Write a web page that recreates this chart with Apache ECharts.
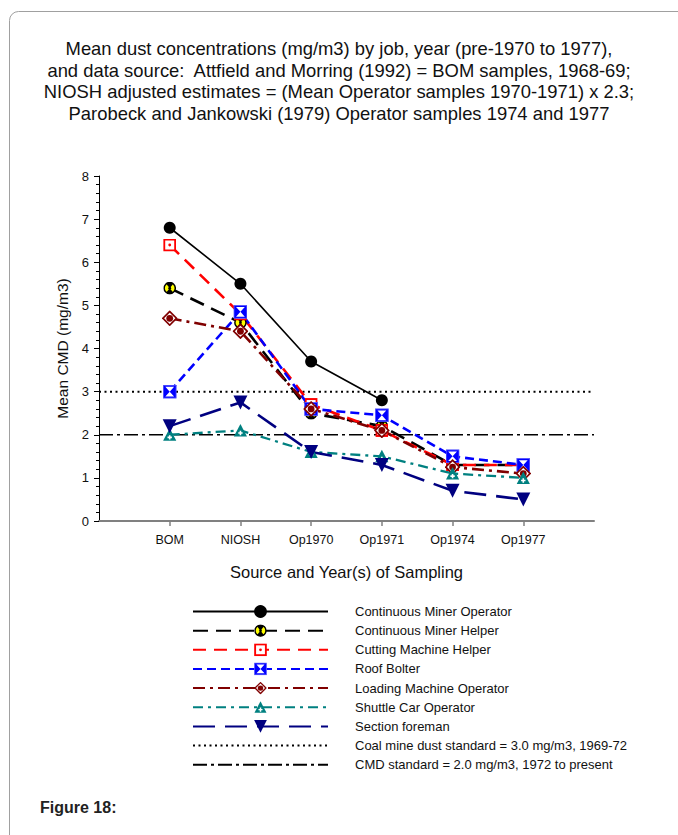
<!DOCTYPE html>
<html>
<head>
<meta charset="utf-8">
<script src="https://cdn.jsdelivr.net/npm/echarts@6/dist/echarts.min.js"></script>
<style>
  html, body { margin: 0; padding: 0; background: #fff; }
  #chart { width: 678px; height: 835px; }
</style>
</head>
<body>
<div id="chart"></div>
<script>
// Sampling sources, left to right
const categories = ['BOM', 'NIOSH', 'Op1970', 'Op1971', 'Op1974', 'Op1977'];

// Mean CMD (mg/m3) per job and source
const contMinerOperator = [6.8, 5.5, 3.7, 2.8, null, null];
const contMinerHelper   = [5.4, 4.6, 2.5, 2.2, 1.3, 1.3];
const cuttingMachHelper = [6.4, 4.8, 2.7, 2.1, 1.3, 1.3];
const roofBolter        = [3.0, 4.85, 2.6, 2.45, 1.5, 1.3];
const loadingMachOper   = [4.7, 4.4, 2.6, 2.1, 1.25, 1.1];
const shuttleCarOper    = [2.0, 2.1, 1.6, 1.5, 1.1, 1.0];
const sectionForeman    = [2.2, 2.75, 1.6, 1.3, 0.7, 0.5];

// Dust standards (mg/m3)
const standard1969 = 3.0;
const standard1972 = 2.0;

const yTicks = [0, 1, 2, 3, 4, 5, 6, 7, 8];

// Multi-colour marker glyphs as inline SVG
function svgSymbol(body, w, h) {
  const svg = '<svg xmlns="http://www.w3.org/2000/svg" width="' + w + '" height="' + h +
    '" viewBox="0 0 ' + w + ' ' + h + '">' + body + '</svg>';
  return 'image://data:image/svg+xml;charset=utf-8,' + encodeURIComponent(svg);
}
const symHelper = svgSymbol(
  '<circle cx="7" cy="7" r="6" fill="#ffff00" stroke="#000" stroke-width="1.6"/>' +
  '<path d="M7 7 L3.2 2.3 A6 6 0 0 1 10.8 2.3 Z" fill="#000"/>' +
  '<path d="M7 7 L3.2 11.7 A6 6 0 0 0 10.8 11.7 Z" fill="#000"/>' +
  '<circle cx="7" cy="7" r="1.5" fill="#000"/>', 14, 14);
const symCutting = svgSymbol(
  '<rect x="1" y="1" width="11" height="11" fill="#fff" stroke="#ff0000" stroke-width="2"/>' +
  '<circle cx="6.5" cy="6.5" r="1.4" fill="#ff0000"/>', 13, 13);
const symRoof = svgSymbol(
  '<rect x="0.5" y="0.5" width="13" height="13" fill="#0000ff" stroke="#5a5aff" stroke-width="1"/>' +
  '<path d="M2.6 2.2 L11.4 2.2 L7 7 L11.4 11.8 L2.6 11.8 L7 7 Z" fill="#fff"/>', 14, 14);
const symLoading = svgSymbol(
  '<path d="M8 0 L16 8 L8 16 L0 8 Z" fill="#800000"/>' +
  '<path d="M8 2.4 L13.6 8 L8 13.6 L2.4 8 Z" fill="#fff"/>' +
  '<circle cx="8" cy="8" r="3.4" fill="#800000"/>', 16, 16);
const symShuttle = svgSymbol(
  '<path d="M7 0.5 L13.6 13 L0.4 13 Z" fill="#008080"/>' +
  '<path d="M6.2 7.4 H7.8 V8.8 H9.2 V10.4 H7.8 V11.8 H6.2 V10.4 H4.8 V8.8 H6.2 Z" fill="#fff"/>', 14, 14);

function toPoints(values) {
  return values.map((v, i) => [i + 1, v]);
}
function flatLine(v) {
  return [[0, v], [categories.length + 1, v]];
}

const font = 'Arial, "Liberation Sans", sans-serif';

const chart = echarts.init(document.getElementById('chart'), null, { renderer: 'svg' });

chart.setOption({
  animation: false,
  backgroundColor: '#fff',
  textStyle: { fontFamily: font },
  title: {
    text: 'Mean dust concentrations (mg/m3) by job, year (pre-1970 to 1977),\n' +
          'and data source:  Attfield and Morring (1992) = BOM samples, 1968-69;\n' +
          'NIOSH adjusted estimates = (Mean Operator samples 1970-1971) x 2.3;\n' +
          'Parobeck and Jankowski (1979) Operator samples 1974 and 1977',
    left: 'center',
    top: 33,
    textStyle: { fontFamily: font, fontSize: 18.4, fontWeight: 'normal', color: '#111', lineHeight: 21.5, align: 'center' }
  },
  graphic: [
    {
      type: 'rect', left: 7, top: 9, silent: true, z: -10,
      shape: { width: 700, height: 860, r: 9 },
      style: { fill: 'none', stroke: '#a0a0a0', lineWidth: 1 }
    },
    {
      type: 'text', left: 40, top: 799,
      style: { text: 'Figure 18:', font: 'bold 16px ' + font, fill: '#222' }
    }
  ],
  legend: {
    orient: 'vertical',
    left: 187,
    top: 600,
    itemWidth: 135,
    itemHeight: 16,
    itemGap: 6.15,
    selectedMode: false,
    textStyle: { fontFamily: font, fontSize: 13, color: '#111', padding: [0, 0, 0, 22] }
  },
  grid: { left: 99, right: 84, top: 176, bottom: 314 },
  xAxis: {
    type: 'value',
    min: 0,
    max: categories.length + 1,
    interval: 1,
    name: 'Source and Year(s) of Sampling',
    nameLocation: 'middle',
    nameGap: 42,
    nameTextStyle: { fontSize: 16.5, color: '#111', fontFamily: font },
    axisLine: { lineStyle: { color: '#808080', width: 2 } },
    axisTick: {
      show: true, length: 5, customValues: categories.map((c, i) => i + 1),
      lineStyle: { color: '#808080', width: 1.5 }
    },
    axisLabel: {
      customValues: categories.map((c, i) => i + 1),
      formatter: v => categories[v - 1] || '',
      fontSize: 12.5, color: '#111', margin: 12, fontFamily: font
    },
    splitLine: { show: false }
  },
  yAxis: {
    type: 'value',
    min: yTicks[0],
    max: yTicks[yTicks.length - 1],
    interval: 1,
    name: 'Mean CMD (mg/m3)',
    nameLocation: 'middle',
    nameGap: 29,
    nameTextStyle: { fontSize: 15.5, color: '#111', fontFamily: font },
    axisLine: { show: true, lineStyle: { color: '#000', width: 1 } },
    axisTick: { show: true, length: 5, lineStyle: { color: '#000' } },
    minorTick: { show: true, splitNumber: 5, length: 3, lineStyle: { color: '#000' } },
    axisLabel: { fontSize: 13, color: '#111', margin: 10, fontFamily: font },
    splitLine: { show: false }
  },
  series: [
    {
      name: 'Continuous Miner Operator', type: 'line', data: toPoints(contMinerOperator),
      symbol: 'circle', symbolSize: 12,
      itemStyle: { color: '#000' },
      lineStyle: { color: '#000', width: 1.6, type: 'solid' }
    },
    {
      name: 'Continuous Miner Helper', type: 'line', data: toPoints(contMinerHelper),
      symbol: symHelper, symbolSize: 13,
      itemStyle: { color: '#000' },
      lineStyle: { color: '#000', width: 2.6, type: [15, 8] }
    },
    {
      name: 'Cutting Machine Helper', type: 'line', data: toPoints(cuttingMachHelper),
      symbol: symCutting, symbolSize: 13,
      itemStyle: { color: '#ff0000' },
      lineStyle: { color: '#ff0000', width: 2.6, type: [13, 8] }
    },
    {
      name: 'Roof Bolter', type: 'line', data: toPoints(roofBolter),
      symbol: symRoof, symbolSize: 14,
      itemStyle: { color: '#0000ff' },
      lineStyle: { color: '#0000ff', width: 2.6, type: [9, 5] }
    },
    {
      name: 'Loading Machine Operator', type: 'line', data: toPoints(loadingMachOper),
      symbol: symLoading, symbolSize: 16,
      itemStyle: { color: '#800000' },
      lineStyle: { color: '#800000', width: 2.6, type: [12, 5, 3, 5] }
    },
    {
      name: 'Shuttle Car Operator', type: 'line', data: toPoints(shuttleCarOper),
      symbol: symShuttle, symbolSize: 14,
      itemStyle: { color: '#008080' },
      lineStyle: { color: '#008080', width: 2.3, type: [10, 5, 3, 5] }
    },
    {
      name: 'Section foreman', type: 'line', data: toPoints(sectionForeman),
      symbol: 'triangle', symbolRotate: 180, symbolSize: 14,
      itemStyle: { color: '#000080' },
      lineStyle: { color: '#000080', width: 2.6, type: [22, 10] }
    },
    {
      name: 'Coal mine dust standard = 3.0 mg/m3, 1969-72', type: 'line', data: flatLine(standard1969),
      symbol: 'none', z: 1,
      itemStyle: { color: 'rgba(0,0,0,0)' },
      lineStyle: { color: '#000', width: 2, type: [2, 3.5] }
    },
    {
      name: 'CMD standard = 2.0 mg/m3, 1972 to present', type: 'line', data: flatLine(standard1972),
      symbol: 'none', z: 1,
      itemStyle: { color: 'rgba(0,0,0,0)' },
      lineStyle: { color: '#000', width: 1.6, type: [14, 4, 3, 4] }
    }
  ]
});
</script>
</body>
</html>
